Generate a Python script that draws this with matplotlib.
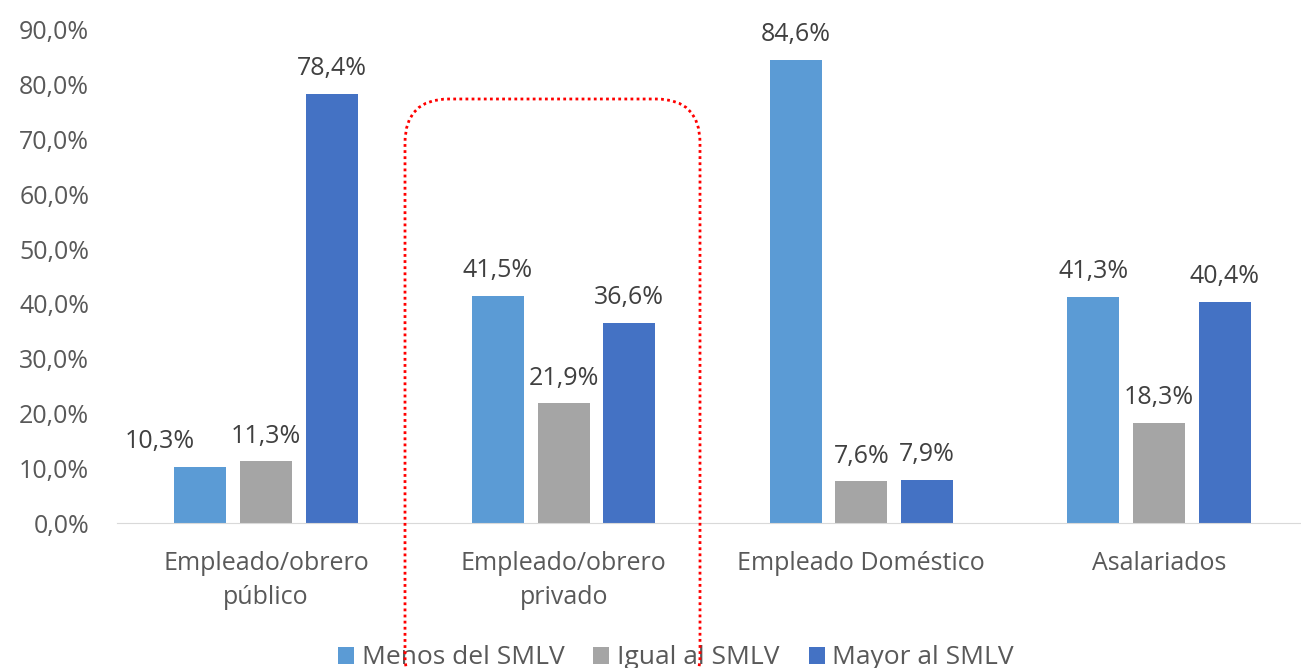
import numpy as np
import matplotlib.pyplot as plt
from matplotlib.patches import FancyBboxPatch

categorias = ["Empleado/obrero\npúblico", "Empleado/obrero\nprivado", "Empleado Doméstico", "Asalariados"]
menos = [10.3, 41.5, 84.6, 41.3]
igual = [11.3, 21.9, 7.6, 18.3]
mayor = [78.4, 36.6, 7.9, 40.4]
series = ["Menos del SMLV", "Igual al SMLV", "Mayor al SMLV"]
colores = ["#5B9BD5", "#A5A5A5", "#4472C4"]

plt.rcParams['font.family'] = ['Open Sans', 'DejaVu Sans']
txt = "#595959"

fig = plt.figure(figsize=(13.01, 6.68), dpi=100)
ax = fig.add_axes([117/1301, 145/668, (1308-117)/1301, (523-30)/668])

x = np.arange(len(categorias))
ancho = 0.175
paso = 0.221
# la etiqueta 10,3% va corrida a la izquierda para no tapar la de 11,3%
corrimiento = {(0, 0): -29}
for i, (vals, nombre, c) in enumerate(zip([menos, igual, mayor], series, colores)):
    pos = x + (i - 1) * paso
    barras = ax.bar(pos, vals, ancho, color=c, label=nombre)
    for j, (b, v) in enumerate(zip(barras, vals)):
        ax.annotate(f"{v:.1f}%".replace(".", ","), (b.get_x() + b.get_width() / 2, v),
                    xytext=(corrimiento.get((i, j), 0), 9), textcoords="offset points",
                    ha="center", va="bottom", fontsize=18, color="#404040")

ax.set_xlim(-0.5, 3.5)
ax.set_ylim(0, 90)
ax.set_yticks(np.arange(0, 91, 10))
ax.set_yticklabels([f"{v:.1f}%".replace(".", ",") for v in np.arange(0, 91, 10)])
ax.set_xticks(x)
ax.set_xticklabels(categorias, linespacing=1.5)
ax.tick_params(axis="both", length=0, labelsize=18, colors=txt)
ax.tick_params(axis="y", pad=20)
ax.tick_params(axis="x", pad=20)
for s in ["top", "right", "left"]:
    ax.spines[s].set_visible(False)
ax.spines["bottom"].set_color("#D9D9D9")

ax.legend(loc="center", bbox_to_anchor=(676/1301, 10/668), bbox_transform=fig.transFigure,
          ncol=3, frameon=False, fontsize=19, handlelength=0.6, handleheight=0.6,
          handletextpad=0.3, columnspacing=1.1, labelcolor=txt)

# recuadro punteado alrededor de Empleado/obrero privado (en pulgadas)
rect = FancyBboxPatch((4.05, -0.32), 2.95, 6.01,
                      boxstyle="round,pad=0,rounding_size=0.44", transform=fig.dpi_scale_trans,
                      fill=False, edgecolor="red", linestyle=(0, (1, 1.2)), linewidth=2,
                      clip_on=False)
fig.patches.append(rect)

fig.savefig("out.png", dpi=100)
